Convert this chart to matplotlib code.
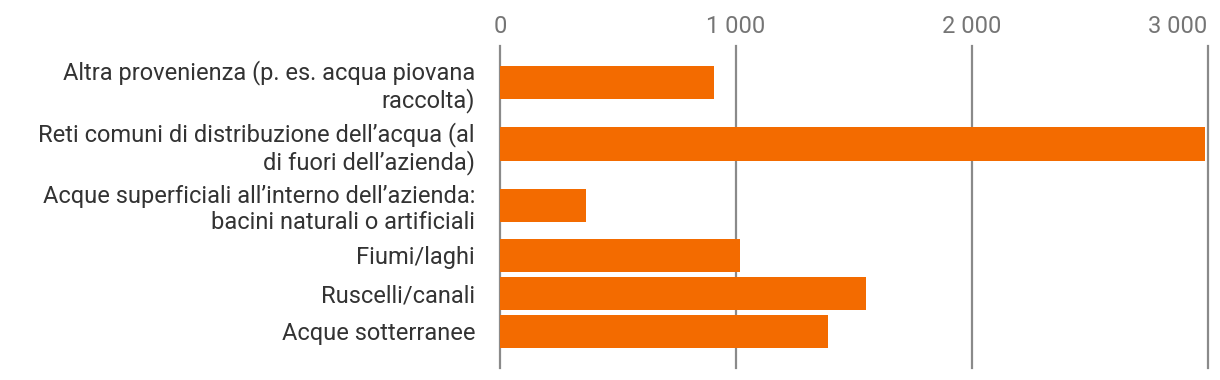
import matplotlib
matplotlib.use("Agg")
import matplotlib.pyplot as plt
import numpy as np

categories = [
    "Altra provenienza (p. es. acqua piovana\nraccolta)",
    "Reti comuni di distribuzione dell\u2019acqua (al\ndi fuori dell\u2019azienda)",
    "Acque superficiali all\u2019interno dell\u2019azienda:\nbacini naturali o artificiali",
    "Fiumi/laghi",
    "Ruscelli/canali",
    "Acque sotterranee",
]
values = [908, 2987, 363, 1017, 1551, 1390]
xticks = [0, 1000, 2000, 3000]
xtick_labels = ["0", "1 000", "2 000", "3 000"]

plt.rcParams['font.family'] = ['Roboto', 'DejaVu Sans']

# rows get taller when the label wraps onto two lines
n_lines = np.array([c.count("\n") + 1 for c in categories])
row_h = n_lines + 0.625
ypos = np.cumsum(row_h) - row_h / 2

fig = plt.figure(figsize=(12.2, 3.8), dpi=100)
ax = fig.add_axes([500 / 1220, 1 - 368 / 380, 707.6 / 1220, 322 / 380])

ax.barh(ypos, values, height=1.43, color="#f36b00", zorder=3)

ax.set_xlim(0, 3000)
ax.set_ylim(ypos[-1] + 1.57, ypos[0] - 1.57)

ax.xaxis.tick_top()
ax.set_xticks(xticks)
ax.set_xticklabels(xtick_labels, fontsize=17, color="#757575")
ax.get_xticklabels()[-1].set_horizontalalignment("right")
ax.set_yticks(ypos)
ax.set_yticklabels(categories, fontsize=17, color="#333333",
                   linespacing=1.15)
ax.tick_params(axis="x", length=0, pad=6)
ax.tick_params(axis="y", length=0, pad=18)

ax.grid(axis="x", color="#8a8a8a", linewidth=1.6)
for gl in ax.get_xgridlines():
    gl.set_clip_on(False)
ax.set_axisbelow(True)
for s in ax.spines.values():
    s.set_visible(False)

fig.savefig("out.png", dpi=100)
